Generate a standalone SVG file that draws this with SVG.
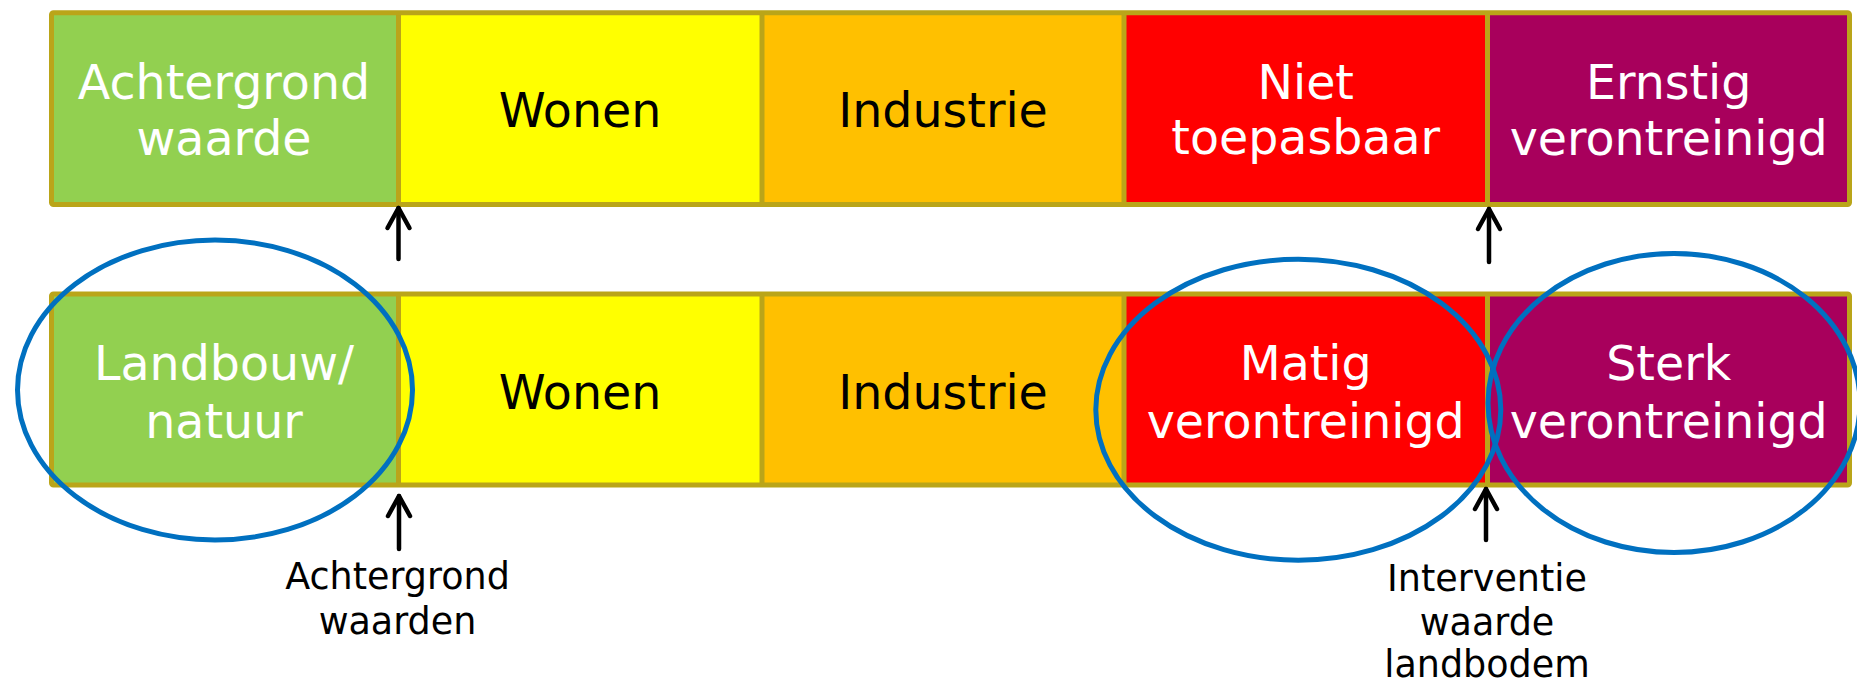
<svg xmlns="http://www.w3.org/2000/svg" width="1857" height="686" viewBox="0 0 1857 686">
<style>
.cell{stroke:none}
.frame{fill:none;stroke:#BAA519;stroke-width:5;stroke-linejoin:round}
.div{stroke:#BAA519;stroke-width:5}
.t{font-family:"DejaVu Sans",Verdana,sans-serif;font-size:47.5px;text-anchor:middle}
.w{fill:#FFFFFF}
.k{fill:#000000}
.lbl{font-family:"DejaVu Sans",Verdana,sans-serif;font-size:36.5px;text-anchor:middle;fill:#000000}
.arr{stroke:#000;stroke-width:4.5;fill:none;stroke-linecap:round}
.ell{fill:none;stroke:#0070C0;stroke-width:5}
</style>
<defs>
<marker id="head" markerUnits="userSpaceOnUse" markerWidth="40" markerHeight="40" viewBox="-30 -20 40 40" refX="0" refY="0" orient="auto" overflow="visible">
<path d="M-20,-11 L0,0 L-20,11" fill="none" stroke="#000" stroke-width="4.5" stroke-linecap="round" stroke-linejoin="round"/>
</marker>
</defs>

<g id="top-row">
<g id="top-achtergrond"><rect class="cell" x="51.5" y="12.8" width="347" height="191.7" fill="#92D050"/><text class="t w" x="224" y="99">Achtergrond</text><text class="t w" x="224" y="155">waarde</text></g>
<g id="top-wonen"><rect class="cell" x="398.5" y="12.8" width="363.5" height="191.7" fill="#FFFF00"/><text class="t k" x="580" y="127">Wonen</text></g>
<g id="top-industrie"><rect class="cell" x="762" y="12.8" width="362" height="191.7" fill="#FFC000"/><text class="t k" x="943" y="127">Industrie</text></g>
<g id="top-niet"><rect class="cell" x="1124" y="12.8" width="363.5" height="191.7" fill="#FF0000"/><text class="t w" x="1305.7" y="98.5">Niet</text><text class="t w" x="1305.7" y="154">toepasbaar</text></g>
<g id="top-ernstig"><rect class="cell" x="1487.5" y="12.8" width="362" height="191.7" fill="#A8005C"/><text class="t w" x="1668.7" y="99">Ernstig</text><text class="t w" x="1668.7" y="155">verontreinigd</text></g>
<line class="div" x1="398.5" y1="12.8" x2="398.5" y2="204.5"/>
<line class="div" x1="762" y1="12.8" x2="762" y2="204.5"/>
<line class="div" x1="1124" y1="12.8" x2="1124" y2="204.5"/>
<line class="div" x1="1487.5" y1="12.8" x2="1487.5" y2="204.5"/>
<rect class="frame" x="51.5" y="12.8" width="1798" height="191.7" rx="2"/>
</g>

<g id="bottom-row">
<g id="bot-landbouw"><rect class="cell" x="51.5" y="294" width="347" height="191" fill="#92D050"/><text class="t w" x="224" y="380">Landbouw/</text><text class="t w" x="224" y="438">natuur</text></g>
<g id="bot-wonen"><rect class="cell" x="398.5" y="294" width="363.5" height="191" fill="#FFFF00"/><text class="t k" x="580" y="409">Wonen</text></g>
<g id="bot-industrie"><rect class="cell" x="762" y="294" width="362" height="191" fill="#FFC000"/><text class="t k" x="943" y="409">Industrie</text></g>
<g id="bot-matig"><rect class="cell" x="1124" y="294" width="363.5" height="191" fill="#FF0000"/><text class="t w" x="1305.7" y="380">Matig</text><text class="t w" x="1305.7" y="438">verontreinigd</text></g>
<g id="bot-sterk"><rect class="cell" x="1487.5" y="294" width="362" height="191" fill="#A8005C"/><text class="t w" x="1668.7" y="380">Sterk</text><text class="t w" x="1668.7" y="438">verontreinigd</text></g>
<line class="div" x1="398.5" y1="294" x2="398.5" y2="485"/>
<line class="div" x1="762" y1="294" x2="762" y2="485"/>
<line class="div" x1="1124" y1="294" x2="1124" y2="485"/>
<line class="div" x1="1487.5" y1="294" x2="1487.5" y2="485"/>
<rect class="frame" x="51.5" y="294" width="1798" height="191" rx="2"/>
</g>

<g id="highlights">
<ellipse id="ell-landbouw" class="ell" cx="215" cy="390" rx="197.5" ry="150"/>
<ellipse id="ell-matig" class="ell" cx="1298.3" cy="409.7" rx="202.5" ry="150.5"/>
<ellipse id="ell-sterk" class="ell" cx="1674" cy="403" rx="186" ry="149.5"/>
</g>

<g id="connectors">
<line class="arr" x1="398.5" y1="259" x2="398.5" y2="208" marker-end="url(#head)"/>
<line class="arr" x1="1489" y1="262" x2="1489" y2="209" marker-end="url(#head)"/>
<line class="arr" x1="399" y1="549" x2="399" y2="496" marker-end="url(#head)"/>
<line class="arr" x1="1486" y1="540" x2="1486" y2="489" marker-end="url(#head)"/>
</g>

<g id="labels">
<g id="lbl-achtergrond"><text class="lbl" x="397.5" y="589">Achtergrond</text><text class="lbl" x="397.5" y="634">waarden</text></g>
<g id="lbl-interventie"><text class="lbl" x="1487" y="591">Interventie</text><text class="lbl" x="1487" y="635">waarde</text><text class="lbl" x="1487" y="677">landbodem</text></g>
</g>
</svg>
